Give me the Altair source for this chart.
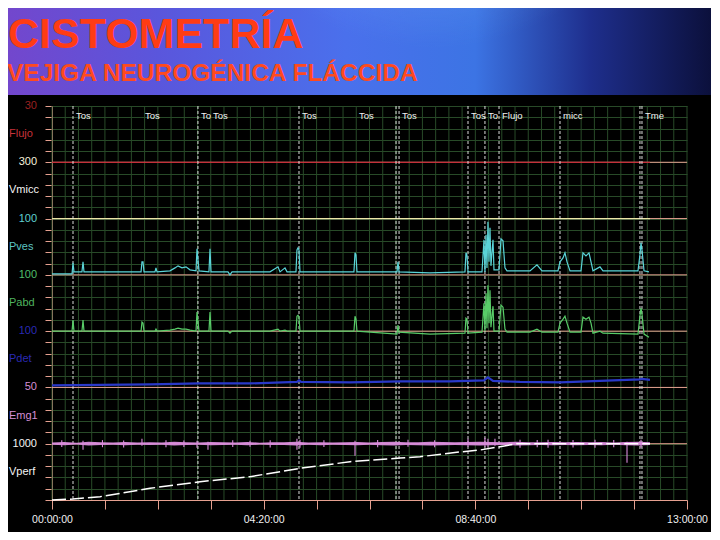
import altair as alt
import pandas as pd

# ---------------- channel bands (listed bottom -> top) ----------------
band_names = ["Vperf", "Emg1", "Pdet", "Pabd", "Pves", "Vmicc", "Flujo"]
band_top_labels = ["1000", "50", "100", "100", "100", "300", "30"]
band_full_scale = [1000, 50, 100, 100, 100, 300, 30]
band_name_colors = ["#f4f4f4", "#d58fd5", "#2a2ab4", "#4fb35f", "#5cc4c4", "#f4f4f4", "#c8323a"]
band_top_colors = ["#f4f4f4", "#d58fd5", "#2a2ab4", "#4fbf6a", "#5fd0d0", "#f4f0dc", "#9a2020"]

# ---------------- time axis (minutes) ----------------
time_tick_values = [0, 65, 130, 195, 260, 325, 390, 455, 520, 585, 650, 715, 780]
grid_minutes = [i * 16.25 for i in range(49)]
record_end = 734.5

# ---------------- event marks ----------------
event_times = [25.8, 110.5, 179.3, 194.1, 303.4, 373.4, 422.6, 426.3, 511.0, 531.8, 549.1, 624.0, 722.2, 724.7]
event_labels = ["Tos", "Tos", "To", "Tos", "Tos", "Tos", "", "Tos", "Tos", "To", "Flujo", "micc", "", "Tme"]
event_has_line = [True, False, True, False, True, False, True, True, True, True, True, True, True, True]

# ---------------- Pves / Pabd (cmH2O) ----------------
p_time = [0, 24.6, 25.8, 27.0, 36.8, 38.1, 39.3, 109.4, 110.5, 111.8,
          113.0, 126.5, 127.7, 129.0, 144.9, 151.1, 154.8, 159.7, 164.6, 169.5,
          176.9, 178.1, 180.6, 192.8, 194.1, 195.3, 216.2, 218.6, 221.1, 267.8,
          277.6, 280.1, 286.2, 288.7, 299.7, 300.9, 302.2, 303.4, 304.6, 370.9,
          372.2, 373.4, 374.6, 423.8, 425.0, 426.3, 464.3, 507.3, 508.5, 509.7,
          511.0, 528.2, 530.6, 531.8, 533.1, 534.3, 535.5, 536.8, 538.0, 539.2,
          541.7, 542.9, 549.1, 551.5, 554.0, 556.4, 558.9, 587.1, 595.7, 601.9,
          621.5, 624.0, 627.7, 630.1, 632.6, 636.3, 649.8, 652.2, 655.9, 659.6,
          662.1, 664.5, 673.1, 676.8, 719.8, 722.2, 723.5, 724.7, 727.2, 733.3]
pves = [1.8, 1.8, 21.3, 5.3, 5.3, 23.1, 5.3, 5.3, 23.1, 23.1,
        5.3, 5.3, 12.4, 5.3, 7.1, 12.4, 16.0, 12.4, 14.2, 8.9,
        7.1, 46.2, 7.1, 5.3, 46.2, 5.3, 5.3, 0.0, 5.3, 5.3,
        14.2, 5.3, 12.4, 5.3, 5.3, 44.4, 48.0, 44.4, 5.3, 5.3,
        39.1, 35.5, 5.3, 5.3, 23.1, 5.3, 3.6, 5.3, 39.1, 35.5,
        5.3, 5.3, 62.2, 5.3, 71.1, 12.4, 94.2, 23.1, 83.5, 16.0,
        62.2, 8.9, 8.9, 64.0, 60.4, 12.4, 7.1, 7.1, 17.8, 7.1,
        7.1, 23.1, 30.2, 39.1, 23.1, 7.1, 7.1, 39.1, 33.8, 39.1,
        23.1, 7.1, 14.2, 7.1, 7.1, 35.5, 56.9, 44.4, 7.1, 5.3]
pabd = [0, 0, 19.5, 0, 0, 19.5, 0, 0, 16.0, 14.2,
        0, 0, 3.6, 0, 1.8, 3.6, 5.3, 3.6, 3.6, 1.8,
        0, 33.8, 0, 0, 33.8, 0, 0, -3.6, 0, 0,
        3.6, 0, 1.8, 0, 0, 26.6, 28.4, 24.9, 0, 0,
        26.6, 21.3, 0, -5.3, 10.7, -1.8, -5.3, -3.6, 23.1, 21.3,
        -3.6, -1.8, 49.7, 0, 67.5, 5.3, 81.7, 14.2, 72.8, 7.1,
        44.4, 0, 0, 46.2, 42.6, 3.6, -1.8, -1.8, 3.6, -1.8,
        -1.8, 14.2, 21.3, 26.6, 14.2, -1.8, -1.8, 24.9, 21.3, 24.9,
        14.2, -3.6, 0, -3.6, -5.3, 26.6, 40.9, 30.2, -5.3, -10.7]

# ---------------- Pdet (cmH2O) ----------------
pdet_time = [0, 59.0, 120.4, 181.8, 243.2, 300.9, 303.4, 306.0, 366.0, 427.5,
             488.9, 530.6, 535.5, 541.7, 574.9, 624.0, 673.1, 722.2, 724.7, 734.5]
pdet = [3.6, 4.4, 5.3, 7.1, 7.1, 9.8, 12.4, 9.8, 8.9, 10.7,
        10.7, 12.4, 17.8, 11.5, 9.8, 8.9, 11.5, 14.2, 15.1, 13.3]

# ---------------- EMG envelope and spikes ----------------
emg_time = [0, 15, 30, 45, 60, 75, 90, 105, 120, 135,
            150, 165, 180, 195, 210, 225, 240, 255, 270, 285,
            300, 315, 330, 345, 360, 375, 390, 405, 420, 435,
            450, 465, 480, 495, 510, 525, 540, 555, 570, 585,
            600, 615, 630, 645, 660, 675, 690, 705, 720, 734.5]
emg_hi = [1.1, 1.6, 0.9, 1.7, 1.2, 1.0, 1.6, 1.1, 1.4, 1.0,
          1.7, 1.3, 1.0, 1.5, 1.3, 1.1, 1.6, 0.9, 1.4, 1.2,
          1.7, 1.0, 1.4, 1.1, 1.3, 1.6, 1.0, 1.5, 1.7, 1.2,
          1.4, 1.7, 1.6, 1.3, 1.6, 1.8, 1.5, 1.3, 1.7, 1.4,
          1.3, 1.6, 1.2, 1.6, 1.4, 1.5, 1.1, 1.6, 1.7, 1.3]
emg_lo = [-1.0, -1.4, -0.8, -1.5, -1.1, -0.9, -1.4, -1.0, -1.2, -0.9,
          -1.5, -1.1, -0.9, -1.3, -1.2, -1.0, -1.4, -0.8, -1.2, -1.1,
          -1.5, -0.9, -1.3, -1.0, -1.2, -1.4, -0.9, -1.3, -1.5, -1.1,
          -1.3, -1.5, -1.4, -1.2, -1.4, -1.6, -1.3, -1.1, -1.5, -1.3,
          -1.2, -1.4, -1.1, -1.4, -1.2, -1.3, -1.0, -1.4, -1.5, -1.2]
spike_time = [12, 38.1, 62, 88, 110.5, 140, 162, 178.1, 191.6, 222,
              243.2, 268, 300.9, 304.6, 334, 372.2, 400, 437.3, 470, 511.0,
              531.8, 535.5, 544.1, 574.9, 596, 609.3, 640, 667.0, 690, 706.3,
              723.5]
spike_hi = [3.0, 2.7, 3.2, 2.8, 4.4, 3.0, 2.9, 2.7, 1.8, 3.1,
            2.7, 3.0, 4.4, 3.6, 3.0, 2.7, 3.2, 3.6, 3.0, 4.4,
            5.3, 4.4, 4.4, 3.6, 3.2, 3.6, 3.3, 3.6, 3.4, 1.8,
            3.6]
spike_lo = [-3.0, -5.3, -3.1, -3.4, -1.8, -3.2, -3.0, -3.6, -5.3, -2.9,
            -2.7, -3.3, -5.3, -3.6, -3.0, -10.7, -3.1, -2.7, -3.2, -2.7,
            -2.7, -3.6, -1.8, -3.6, -3.1, -3.6, -3.3, -3.6, -3.2, -16.9,
            -3.6]

# ---------------- Vperf (ml) ----------------
vperf_time = [0, 25.8, 59.0, 120.4, 181.8, 243.2, 304.6, 366.0, 427.5, 452.0, 501.2, 525.7, 550.3, 571.2, 734.5]
vperf = [0, 18, 59, 208, 325, 414, 563, 680, 746, 769, 853, 888, 947, 1000, 1000]

# ---------------- styling constants ----------------
SALMON = "#e6a090"
GRID = "#284a28"
FONT = "Liberation Sans"

# ---------------- tables in band units ----------------
def band_y(idx, values):
    return [idx + v / band_full_scale[idx] for v in values]

pres_df = pd.DataFrame({"t": p_time, "ves": band_y(4, pves), "abd": band_y(3, pabd)})
pdet_df = pd.DataFrame({"t": pdet_time, "y": band_y(2, pdet)})
emg_df = pd.DataFrame({"t": emg_time, "hi": band_y(1, emg_hi), "lo": band_y(1, emg_lo)})
spk_df = pd.DataFrame({"t": spike_time, "hi": band_y(1, spike_hi), "lo": band_y(1, spike_lo)})
vperf_df = pd.DataFrame({"t": vperf_time, "y": band_y(0, vperf)})
flat_df = pd.DataFrame({"t": [0, record_end, 0, record_end],
                        "y": [6, 6, 5, 5],
                        "ch": ["Flujo", "Flujo", "Vmicc", "Vmicc"]})
base_df = pd.DataFrame({"y": list(range(1, 7))})
grid_df = pd.DataFrame({"t": grid_minutes})
ev_df = pd.DataFrame({"t": event_times, "label": event_labels, "line": event_has_line})
lab_df = pd.DataFrame({
    "ytop": [i + 1 for i in range(7)],
    "ymid": [i + 0.5 for i in range(7)],
    "top": band_top_labels,
    "name": band_names,
    "ctop": band_top_colors,
    "cname": band_name_colors,
})
one = pd.DataFrame({"a": [0]})

xs = alt.Scale(domain=[0, 780], nice=False, zero=False)
ys = alt.Scale(domain=[0, 7], nice=False, zero=False)

XAXIS = alt.Axis(
    values=time_tick_values, grid=False, tickSize=9, tickColor=SALMON,
    domainColor=SALMON, title=None, labelColor="#f0f0f0", labelFont=FONT,
    labelFontSize=10.5, labelPadding=5, labelOverlap=False, labelFlush=False,
    labelExpr="datum.value % 260 == 0 ? ((datum.value/60 < 10 ? '0' : '') + floor(datum.value/60) + ':' + (datum.value % 60 < 10 ? '0' : '') + (datum.value % 60) + ':00') : ''")
YAXIS = alt.Axis(
    values=[round(i / 5, 3) for i in range(36)], labels=False, tickSize=7,
    tickColor=SALMON, domainColor=SALMON, grid=True, gridColor=GRID,
    gridOpacity=1, title=None)


def X(field="t"):
    return alt.X(f"{field}:Q", scale=xs, axis=XAXIS)


def Y(field):
    return alt.Y(f"{field}:Q", scale=ys, axis=YAXIS)


# ---------------- header ----------------
def header_rect(color):
    return alt.Chart(one).mark_rect(color=color).encode(
        x=alt.value(-52), x2=alt.value(668), y=alt.value(-106), y2=alt.value(-11))


header = header_rect(alt.LinearGradient(
    gradient="linear", x1=0, x2=1, y1=0, y2=0,
    stops=[alt.GradientStop(color="#7446cc", offset=0),
           alt.GradientStop(color="#5a56dc", offset=0.22),
           alt.GradientStop(color="#4a70ec", offset=0.48),
           alt.GradientStop(color="#3c74e4", offset=0.66),
           alt.GradientStop(color="#1e2e8c", offset=0.82),
           alt.GradientStop(color="#0a0e36", offset=1)]))
glow = header_rect(alt.RadialGradient(
    gradient="radial", x1=0.6, y1=0.15, r1=0, x2=0.6, y2=0.15, r2=0.35,
    stops=[alt.GradientStop(color="rgba(175,235,255,0.75)", offset=0),
           alt.GradientStop(color="rgba(120,180,255,0)", offset=1)]))
glow2 = header_rect(alt.RadialGradient(
    gradient="radial", x1=0.05, y1=0.1, r1=0, x2=0.05, y2=0.1, r2=0.3,
    stops=[alt.GradientStop(color="rgba(210,110,235,0.55)", offset=0),
           alt.GradientStop(color="rgba(210,110,235,0)", offset=1)]))

title = alt.Chart(one).mark_text(
    text="CISTOMETRÍA", font=FONT, fontWeight="bold", fontSize=43,
    align="left", baseline="alphabetic", color="#ff3c14"
).encode(x=alt.value(-44), y=alt.value(-58))
subtitle = alt.Chart(one).mark_text(
    text="VEJIGA NEUROGÉNICA  FLÁCCIDA", font=FONT, fontWeight="bold", fontSize=24.5,
    align="left", baseline="alphabetic", color="#ff4a1e"
).encode(x=alt.value(-45), y=alt.value(-25))

# ---------------- grid and axes ----------------
vgrid = alt.Chart(grid_df).mark_rule(color=GRID, strokeWidth=1).encode(x=X())
baselines = alt.Chart(base_df).mark_rule(color=SALMON, strokeWidth=1).encode(y=Y("y"))

flat = alt.Chart(flat_df).mark_line(strokeWidth=1.2).encode(
    x=X(), y=Y("y"), detail="ch:N",
    color=alt.Color("ch:N", scale=alt.Scale(domain=["Flujo", "Vmicc"], range=["#c4303a", "#ece4a8"]), legend=None)
)

ev_lines = alt.Chart(ev_df).transform_filter("datum.line").mark_rule(
    color="#f2f2f2", strokeDash=[3, 2], strokeWidth=1, opacity=0.9
).encode(x=X())

ev_text = alt.Chart(ev_df).mark_text(
    align="left", baseline="middle", dx=3, font=FONT, fontSize=9.5, color="#f0f0f0"
).encode(x=X(), y=alt.value(10), text="label:N")

# ---------------- traces ----------------
pves_line = alt.Chart(pres_df).mark_line(color="#5ad4d8", strokeWidth=1.2).encode(x=X(), y=Y("ves"))
pabd_line = alt.Chart(pres_df).mark_line(color="#58cc68", strokeWidth=1.2).encode(x=X(), y=Y("abd"))
pdet_line = alt.Chart(pdet_df).mark_line(color="#2a38c8", strokeWidth=2.2).encode(x=X(), y=Y("y"))
emg_band = alt.Chart(emg_df).mark_area(color="#d98cdc", opacity=0.95).encode(x=X(), y=Y("hi"), y2="lo:Q")
emg_spk = alt.Chart(spk_df).mark_rule(color="#d98cdc", strokeWidth=1.1).encode(x=X(), y=Y("hi"), y2="lo:Q")
vperf_line = alt.Chart(vperf_df).mark_line(color="#ffffff", strokeWidth=1.5, strokeDash=[14, 4]).encode(x=X(), y=Y("y"))

# ---------------- left labels ----------------
top_text = alt.Chart(lab_df).mark_text(
    align="right", baseline="middle", font=FONT, fontSize=11
).encode(x=alt.value(-15), y=Y("ytop"), text="top:N", color=alt.Color("ctop:N", scale=None))
name_text = alt.Chart(lab_df).mark_text(
    align="left", baseline="middle", font=FONT, fontSize=11
).encode(x=alt.value(-43), y=Y("ymid"), text="name:N", color=alt.Color("cname:N", scale=None))

chart = alt.layer(
    header, glow, glow2, title, subtitle,
    vgrid, baselines, flat, ev_lines, ev_text,
    pdet_line, emg_band, emg_spk, vperf_line, pabd_line, pves_line,
    top_text, name_text
).properties(
    width=635, height=394, background="#000000",
    padding={"left": 44, "top": 98, "right": 24, "bottom": 32},
    autosize=alt.AutoSizeParams(type="none"),
).configure_view(stroke=None)

chart.save("out.html", embed_options={"renderer": "svg", "actions": False})
